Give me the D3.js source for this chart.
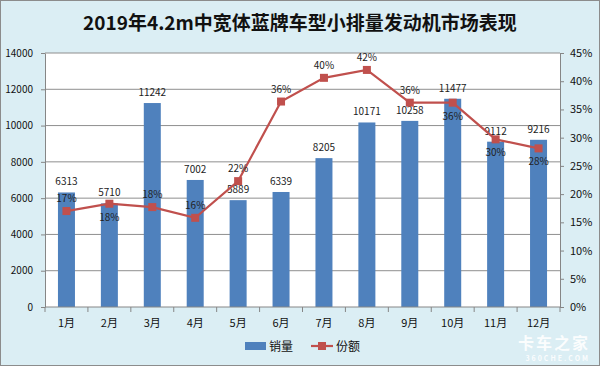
<!DOCTYPE html>
<html lang="zh">
<head>
<meta charset="UTF-8" />
<title>4.2m 小排量发动机</title>
<style>
  body { margin: 0; }
  svg text { font-family: "Noto Sans CJK SC", "DejaVu Sans", sans-serif; }
</style>
</head>
<body>
<div id="wrapper"></div>
<script src="https://d3js.org/d3.v7.min.js"></script>
<script>
const months = ["1月","2月","3月","4月","5月","6月","7月","8月","9月","10月","11月","12月"];
const sales = [6313, 5710, 11242, 7002, 5889, 6339, 8205, 10171, 10258, 11477, 9112, 9216];
const share = [17.0, 18.3, 17.7, 15.8, 22.3, 36.4, 40.6, 42.0, 36.2, 36.2, 29.7, 28.1];
const shareLabels = ["17%","18%","18%","16%","22%","36%","40%","42%","36%","36%","30%","28%"];
const shareBelow = [false, true, false, false, false, false, false, false, false, true, true, true];
const leftTicks = [0, 2000, 4000, 6000, 8000, 10000, 12000, 14000];
const rightTicks = [0, 5, 10, 15, 20, 25, 30, 35, 40, 45];

const W = 600, H = 366;
const margin = {top: 53, right: 40, bottom: 59, left: 45};
const width = W - margin.left - margin.right,
      height = H - margin.top - margin.bottom;

const svg = d3.select("#wrapper").append("svg")
  .attr("width", W).attr("height", H);

svg.append("rect").attr("x", 0.5).attr("y", 0.5)
  .attr("width", W - 1).attr("height", H - 1)
  .attr("fill", "#dbeef4").attr("stroke", "#8c8c8c");

svg.append("text").attr("x", 300).attr("y", 30)
  .attr("text-anchor", "middle").attr("font-size", 19).attr("font-weight", "bold")
  .attr("fill", "#111").text("2019年4.2m中宽体蓝牌车型小排量发动机市场表现");

const g = svg.append("g").attr("transform", `translate(${margin.left},${margin.top})`);

g.append("rect").attr("width", width).attr("height", height).attr("fill", "#fff");

const xc = d3.scaleBand().domain(months).range([0, width]);
const y = d3.scaleLinear().domain([0, 14000]).range([height, 0]);
const y2 = d3.scaleLinear().domain([0, 45]).range([height, 0]);
const cx = m => xc(m) + xc.bandwidth() / 2;

// gridlines
g.selectAll(".grid").data(leftTicks.slice(1)).join("line")
  .attr("x1", 0).attr("x2", width)
  .attr("y1", d => y(d)).attr("y2", d => y(d))
  .attr("stroke", "#8e8e8e").attr("stroke-width", 1);

// bars
g.selectAll(".bar").data(sales).join("rect")
  .attr("x", (d, i) => cx(months[i]) - 8.5)
  .attr("width", 17)
  .attr("y", d => y(d)).attr("height", d => height - y(d))
  .attr("fill", "#4f81bd");

g.selectAll(".barlabel").data(sales).join("text")
  .attr("x", (d, i) => cx(months[i]))
  .attr("y", d => y(d) - 7)
  .attr("text-anchor", "middle").attr("font-size", 10).attr("fill", "#222")
  .text(d => d);

// axes
const axisStyle = sel => {
  sel.selectAll("path, line").attr("stroke", "#868686");
  sel.selectAll("text").attr("font-size", 10).attr("fill", "#111");
};

g.append("g").call(d3.axisLeft(y).tickValues(leftTicks).tickFormat(d3.format("d"))
    .tickSize(4).tickSizeOuter(0).tickPadding(8))
  .call(axisStyle);
g.append("g").attr("transform", `translate(${width},0)`)
  .call(d3.axisRight(y2).tickValues(rightTicks).tickFormat(d => d + "%").tickSize(4).tickSizeOuter(0).tickPadding(6))
  .call(axisStyle)
  .selectAll("text").attr("font-size", 11);

const xAxis = g.append("g").attr("transform", `translate(0,${height})`);
xAxis.append("line").attr("x1", 0).attr("x2", width).attr("stroke", "#868686");
xAxis.selectAll(".xt").data(d3.range(months.length + 1)).join("line")
  .attr("x1", i => i * xc.step()).attr("x2", i => i * xc.step())
  .attr("y1", 0).attr("y2", 5).attr("stroke", "#868686");
xAxis.selectAll(".xl").data(months).join("text")
  .attr("x", d => cx(d)).attr("y", 20)
  .attr("text-anchor", "middle").attr("font-size", 11).attr("fill", "#111")
  .text(d => d);

// share line
const line = d3.line()
  .x((d, i) => cx(months[i]))
  .y(d => y2(d));
g.append("path").datum(share).attr("d", line)
  .attr("fill", "none").attr("stroke", "#c0504d").attr("stroke-width", 2.2);
g.selectAll(".mk").data(share).join("rect")
  .attr("x", (d, i) => cx(months[i]) - 4)
  .attr("y", d => y2(d) - 4)
  .attr("width", 8).attr("height", 8).attr("fill", "#c0504d");
g.selectAll(".shl").data(share).join("text")
  .attr("x", (d, i) => cx(months[i]))
  .attr("y", (d, i) => shareBelow[i] ? y2(d) + 17 : y2(d) - 9)
  .attr("text-anchor", "middle").attr("font-size", 10).attr("fill", "#222")
  .text((d, i) => shareLabels[i]);

// legend
const lg = svg.append("g").attr("transform", "translate(0,347)");
lg.append("rect").attr("x", 245).attr("y", -5).attr("width", 21).attr("height", 8).attr("fill", "#4f81bd");
lg.append("text").attr("x", 269).attr("y", 4).attr("font-size", 12).attr("fill", "#111").text("销量");
lg.append("line").attr("x1", 311).attr("x2", 333).attr("y1", -1).attr("y2", -1)
  .attr("stroke", "#c0504d").attr("stroke-width", 2.2);
lg.append("rect").attr("x", 318).attr("y", -5).attr("width", 8).attr("height", 8).attr("fill", "#c0504d");
lg.append("text").attr("x", 336).attr("y", 4).attr("font-size", 12).attr("fill", "#111").text("份额");

// watermark
svg.append("text").attr("x", 590).attr("y", 349).attr("text-anchor", "end")
  .attr("font-size", 16).attr("font-weight", "bold").attr("fill", "#fff").attr("opacity", 0.9)
  .attr("letter-spacing", 2).text("卡车之家");
svg.append("text").attr("x", 590).attr("y", 361).attr("text-anchor", "end")
  .attr("font-size", 7).attr("font-weight", "bold").attr("fill", "#fff").attr("opacity", 0.9)
  .attr("letter-spacing", 2).text("360CHE.COM");
</script>
</body>
</html>
